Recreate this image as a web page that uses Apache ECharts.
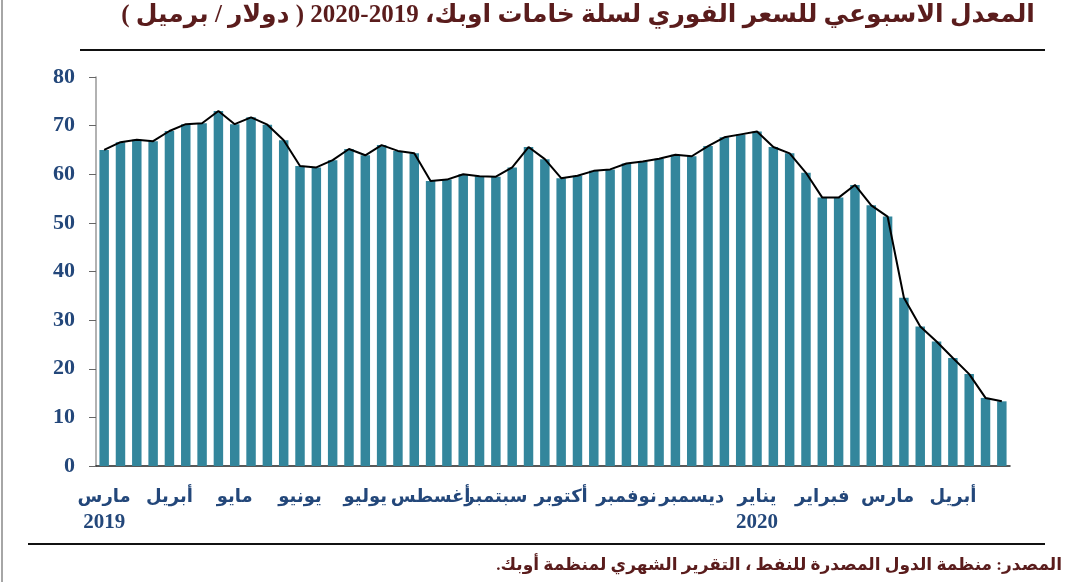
<!DOCTYPE html>
<html>
<head>
<meta charset="utf-8">
<script src="https://cdn.jsdelivr.net/npm/echarts@6/dist/echarts.min.js"></script>
<style>
  html, body { margin: 0; padding: 0; background: #fff; }
  #chart { width: 1080px; height: 582px; }
</style>
</head>
<body>
<div id="chart"></div>
<script>
// أسماء الأشهر على المحور الأفقي (كل شهر = 4 أسابيع)
const months = ['مارس', 'أبريل', 'مايو', 'يونيو', 'يوليو', 'أغسطس', 'سبتمبر',
  'أكتوبر', 'نوفمبر', 'ديسمبر', 'يناير', 'فبراير', 'مارس', 'أبريل'];
// السنة تحت الشهر الأول من كل سنة
const years = { 0: '2019', 10: '2020' };

// المعدل الأسبوعي لسعر سلة أوبك (دولار / برميل)
const weekly = [
  65.0, 66.6, 67.1, 66.8, 68.9, 70.3, 70.5, 73.0, 70.3, 71.7, 70.2, 67.0,
  61.7, 61.4, 62.9, 65.2, 63.9, 66.0, 64.8, 64.3, 58.6, 58.9, 60.0, 59.6,
  59.5, 61.4, 65.6, 63.1, 59.2, 59.7, 60.7, 61.0, 62.2, 62.6, 63.2, 64.0,
  63.7, 65.8, 67.6, 68.2, 68.8, 65.6, 64.3, 60.3, 55.2, 55.2, 57.8, 53.6,
  51.3, 34.6, 28.7, 25.6, 22.2, 18.9, 14.0, 13.3
];

const yTicks = [0, 10, 20, 30, 40, 50, 60, 70, 80];

const categories = weekly.map((v, i) => (i % 4 === 0 ? String(i / 4) : ''));

const navy = '#23477a';
const maroon = '#5a1c1c';
const serif = '"Liberation Serif", "DejaVu Serif", "DejaVu Sans", serif';
// نص من اليمين إلى اليسار
const rtl = s => '\u202B' + s + '\u202C';

const titleText = 'المعدل الاسبوعي للسعر الفوري لسلة خامات اوبك، 2019\u200F-2020 ( دولار / برميل )';
const sourceText = 'المصدر: منظمة الدول المصدرة للنفط ، التقرير الشهري لمنظمة أوبك.';

const chart = echarts.init(document.getElementById('chart'));
chart.setOption({
  animation: false,
  grid: { left: 96, right: 70, top: 77, bottom: 116 },
  graphic: [
    { type: 'text', x: 578, y: 3,
      style: { text: rtl(titleText), align: 'center',
        font: 'bold 25px ' + serif, fill: maroon } },
    { type: 'line', shape: { x1: 80, y1: 50, x2: 1045, y2: 50 },
      style: { stroke: '#111', lineWidth: 2 } },
    { type: 'line', shape: { x1: 28, y1: 544, x2: 1045, y2: 544 },
      style: { stroke: '#111', lineWidth: 2 } },
    { type: 'line', shape: { x1: 2, y1: 0, x2: 2, y2: 582 },
      style: { stroke: '#888', lineWidth: 1.5 } },
    { type: 'text', x: 1062, y: 557,
      style: { text: rtl(sourceText), align: 'right',
        font: 'bold 17px ' + serif, fill: maroon } }
  ],
  xAxis: {
    type: 'category',
    data: categories,
    boundaryGap: true,
    axisLine: { lineStyle: { color: '#222', width: 1.5 } },
    axisTick: { interval: 3, length: 5, lineStyle: { color: '#666' } },
    axisLabel: {
      interval: 3,
      margin: 18,
      formatter: v => {
        if (v === '') return '';
        const m = Number(v);
        return '{m|' + months[m] + '}\n{y|' + (years[m] || ' ') + '}';
      },
      rich: {
        m: { color: navy, fontFamily: serif, fontWeight: 'bold', fontSize: 18, lineHeight: 26 },
        y: { color: navy, fontFamily: serif, fontWeight: 'bold', fontSize: 21, lineHeight: 26 }
      }
    }
  },
  yAxis: {
    type: 'value',
    min: yTicks[0],
    max: yTicks[yTicks.length - 1],
    interval: 10,
    axisLine: { show: true, lineStyle: { color: '#999', width: 1.5 } },
    axisTick: { show: true, length: 7, lineStyle: { color: '#666' } },
    splitLine: { show: false },
    axisLabel: {
      color: navy,
      fontFamily: serif,
      fontWeight: 'bold',
      fontSize: 22,
      margin: 21
    }
  },
  series: [
    {
      type: 'bar',
      data: weekly,
      barWidth: '58%',
      itemStyle: { color: '#33869c' },
      z: 2
    },
    {
      type: 'line',
      data: weekly,
      symbol: 'none',
      lineStyle: { color: '#000', width: 2 },
      z: 3
    }
  ]
});
</script>
</body>
</html>
